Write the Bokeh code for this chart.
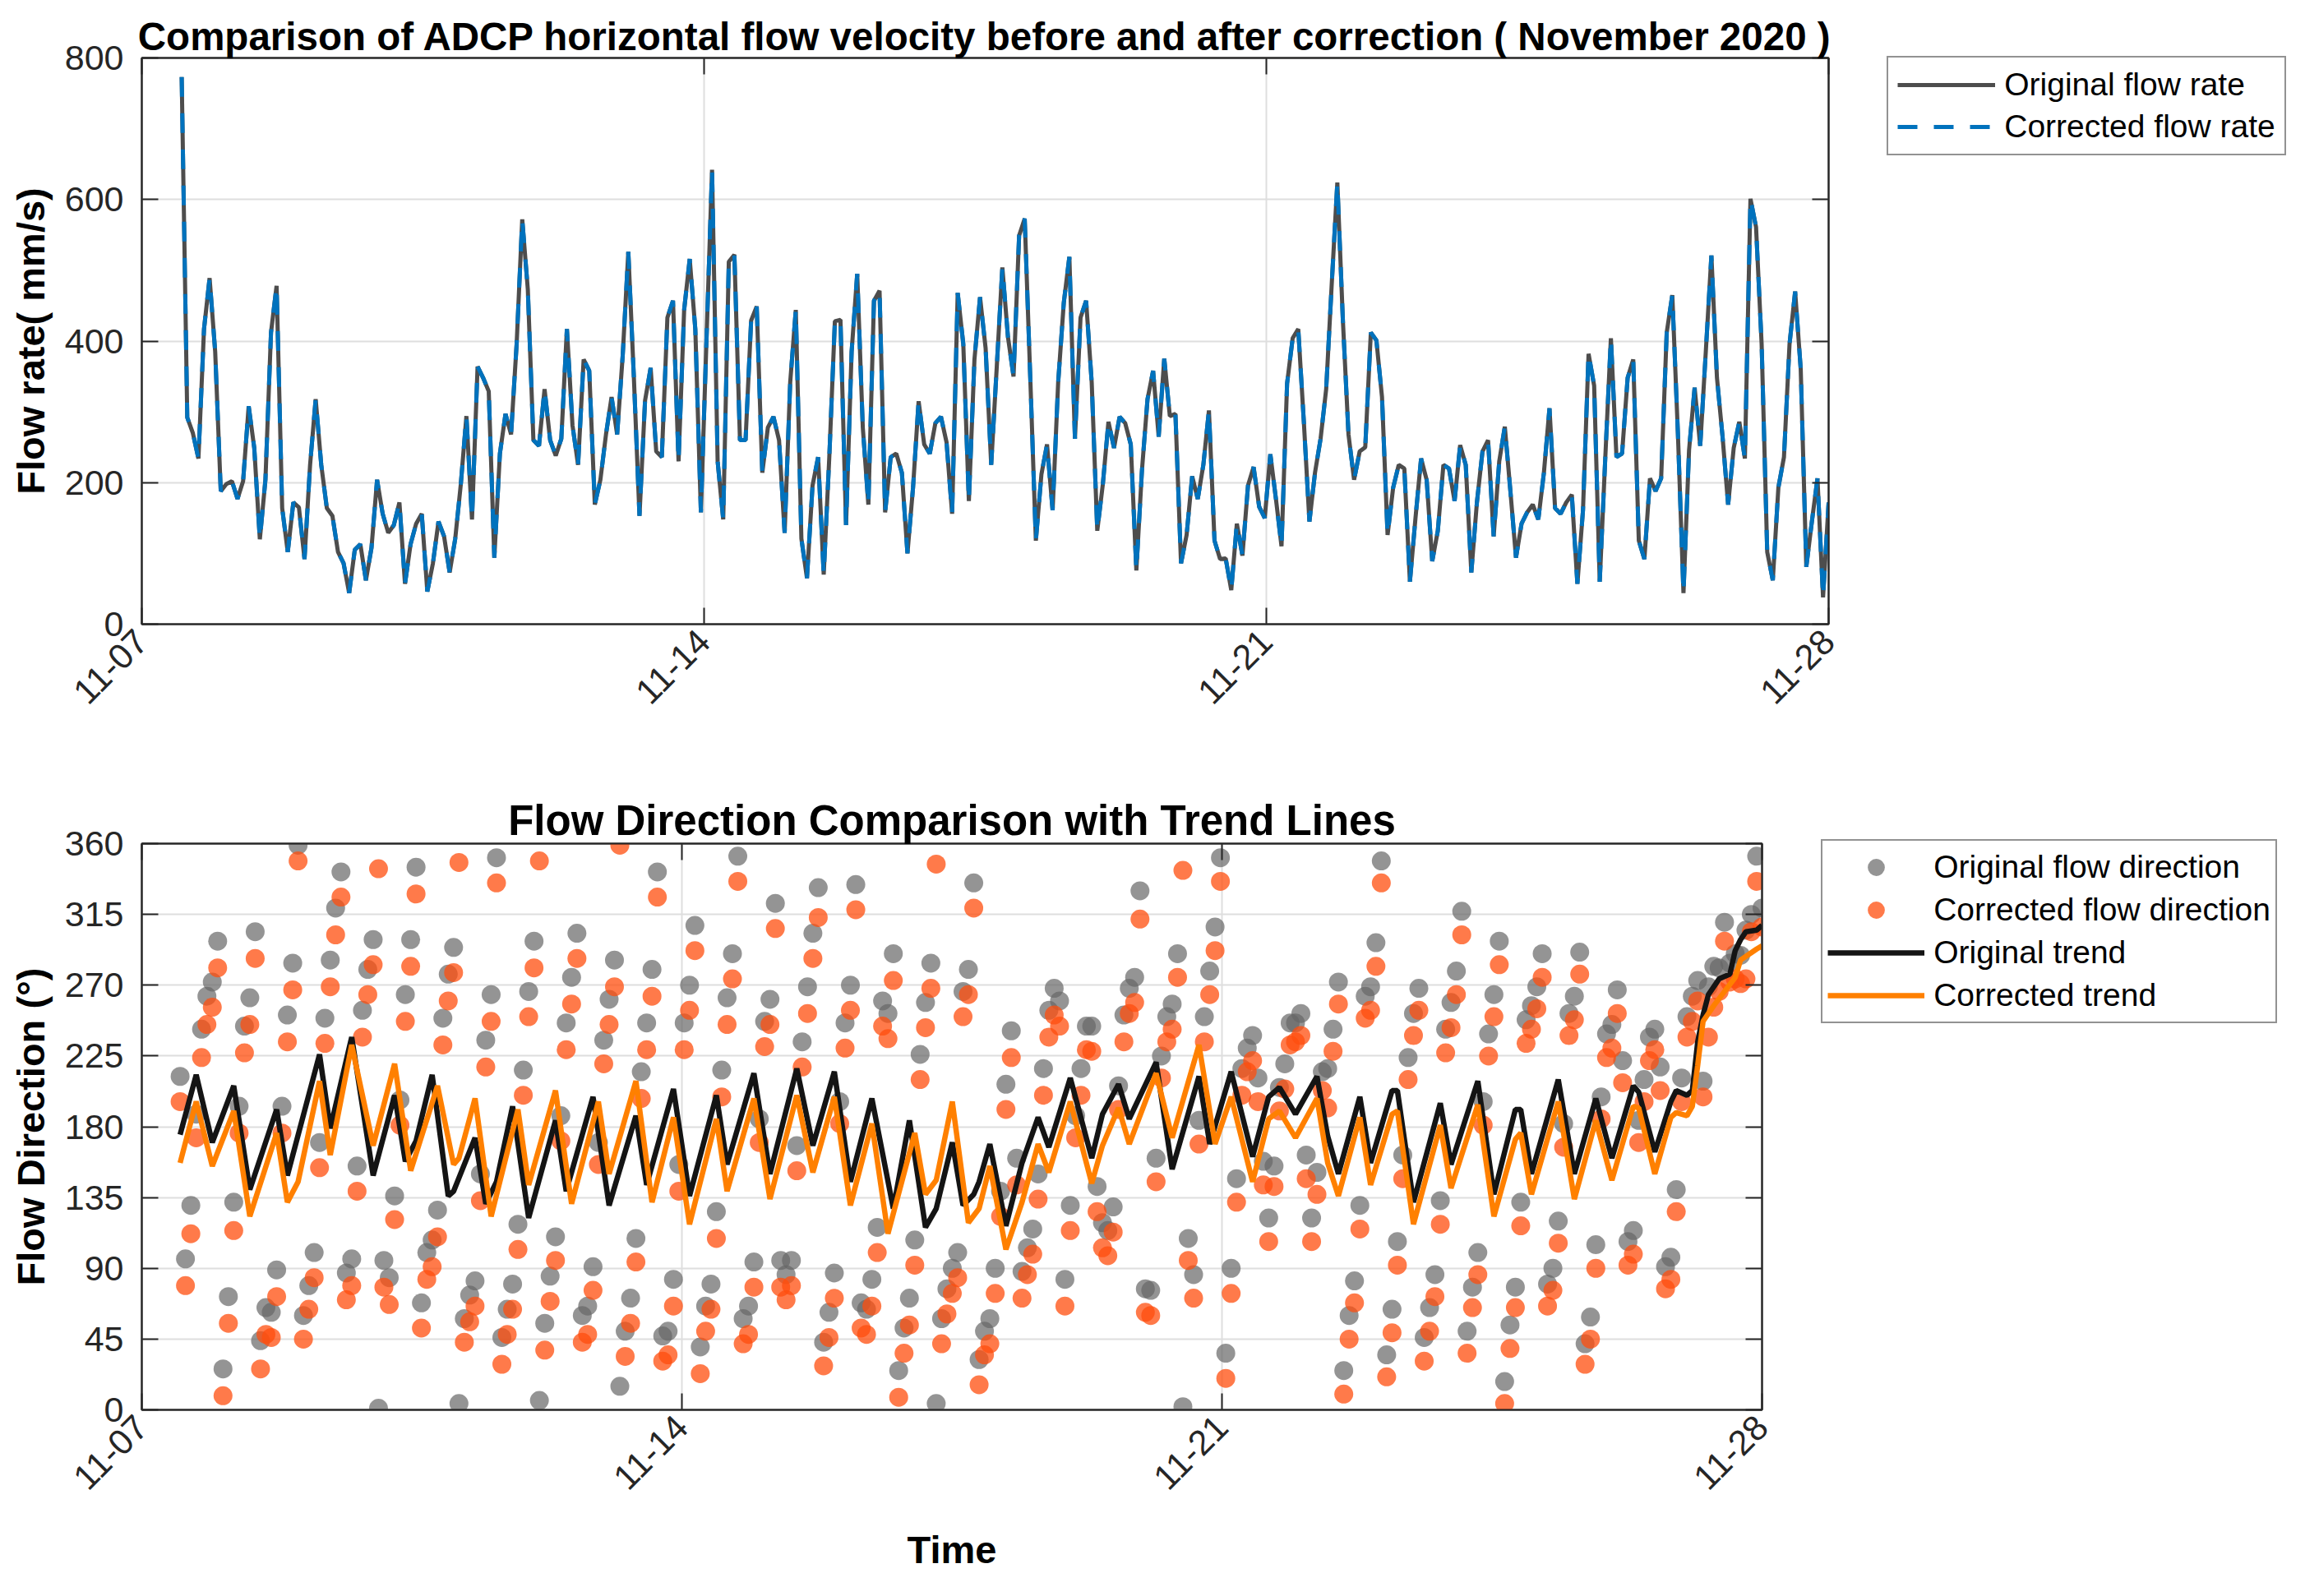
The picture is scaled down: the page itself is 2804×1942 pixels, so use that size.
import pandas as pd
from math import pi
from bokeh.plotting import figure
from bokeh.models import (FixedTicker, DatetimeTickFormatter, LinearAxis, DatetimeAxis,
                          Legend, LegendItem, Range1d)
from bokeh.embed import file_html
from bokeh.resources import INLINE

FONT = "Liberation Sans"

# sample times (both panels share them)
times = pd.date_range("2020-11-07 11:55", "2020-11-28 00:00", periods=296)

# horizontal flow velocity, mm/s
original_rate = [
    773, 292, 270, 234, 417, 489, 385, 188, 198, 202,
    177, 202, 308, 249, 120, 204, 412, 478, 164, 102,
    172, 165, 92, 225, 318, 225, 164, 153, 102, 86,
    44, 105, 113, 62, 108, 204, 156, 129, 140, 172,
    57, 113, 142, 156, 46, 86, 145, 124, 73, 121,
    198, 294, 148, 364, 348, 329, 94, 241, 297, 268,
    396, 572, 473, 260, 252, 332, 260, 238, 262, 417,
    281, 225, 374, 358, 169, 204, 268, 321, 268, 380,
    526, 348, 153, 316, 362, 244, 236, 433, 457, 230,
    444, 516, 417, 158, 401, 642, 230, 148, 512,
    522, 260, 260, 429, 449, 214, 278, 293, 260, 129,
    342, 444, 121, 65, 196, 236, 70, 236, 428, 430,
    140, 385, 495, 278, 169, 457, 471, 158, 236, 241,
    214, 100, 193, 315, 254, 241, 284, 293, 257, 156,
    468, 396, 174, 374, 462, 390, 225, 364, 504, 406,
    350, 549, 573, 348, 118, 212, 254, 161, 342, 454,
    519, 262, 433, 457, 342, 132, 198, 286, 249, 293,
    284, 254, 76, 217, 318, 358, 265, 375, 294, 297,
    86, 126, 209, 177, 225, 302, 118, 92, 93, 48,
    142, 97, 196, 222, 166, 150, 240, 177, 110, 340,
    404, 417,
    286, 145, 214, 262, 332, 481, 624, 428, 268, 204,
    244, 250, 412, 401, 321, 126, 193, 225, 220, 60,
    150, 234, 204, 89, 132, 225, 220, 174, 253, 225,
    73, 172, 244, 260, 124, 230, 279, 188, 94, 142,
    158, 169, 148, 214, 305, 164, 156, 172, 183, 57,
    161, 382, 337, 60, 236, 404, 236, 241, 348, 374,
    118, 92, 206, 188, 206, 412, 465, 270, 44, 246,
    334, 252, 385, 521, 348, 265, 169, 249, 286, 234,
    601, 561, 396, 102, 62, 193, 236, 396, 470, 361,
    81, 145, 206, 38, 172,
]
corrected_rate = list(original_rate)

# flow direction, degrees
original_dir = [
    212, 96, 130, 188, 242, 263, 272, 298, 26, 72,
    132, 193, 244, 262, 304, 44, 65, 62, 89, 193,
    251, 284, 359, 60, 79, 100, 170, 249, 286, 319,
    342, 87, 96, 155, 254, 280, 299, 1, 95, 84,
    136, 197, 264, 299, 345, 68, 100, 108, 127, 249,
    277, 294, 4, 58, 73, 82, 150, 235, 264, 351,
    46, 64, 80, 118, 216, 266, 298, 6, 55, 85,
    110, 187, 246, 275, 303, 60, 66, 91, 170, 235,
    261, 286, 15, 50, 71, 109, 215, 246, 280, 342,
    47, 50, 83, 156, 246, 270, 308, 40, 66, 80,
    126, 216, 262, 290, 352, 58, 66, 94,
    185, 247, 261, 322, 95, 86, 95, 168, 234, 269,
    303, 332, 43, 62, 87, 196, 246, 270, 334, 68,
    64, 83, 116, 260, 252, 290, 25, 52, 71, 108,
    226, 259, 284, 4, 58, 77, 90, 100, 266, 280,
    335, 32, 50, 58, 90, 139, 207, 241, 160, 88,
    103, 115, 150, 217, 254, 268, 260, 83, 130, 187,
    217, 244, 244, 142, 119, 114, 129, 206, 251, 268,
    275, 330, 77, 76, 160, 225, 250, 258, 290, 2,
    109, 86, 184, 250, 279, 307, 351, 36, 90, 147,
    217, 230, 238, 211, 158, 122, 155, 205, 220, 246,
    246, 252, 162, 122, 151, 215, 217, 242, 272, 25,
    60, 82, 130, 263, 269, 297, 349, 35, 64, 107,
    162, 224, 252, 268, 46, 65, 86, 133, 242, 259,
    279, 317, 50, 78, 100, 196, 239, 264, 298, 18,
    54, 78, 132, 248, 257, 269, 290, 80, 90, 120,
    182, 252, 263, 291, 42, 59, 105, 199, 239, 245,
    267, 222, 107, 114, 184, 210, 237, 242, 218, 91,
    97, 140, 211, 250, 263, 273, 209, 269, 282, 281,
    310, 284, 290, 289, 305, 315, 352, 319,
]
corrected_dir = [
    196, 79, 112, 173, 224, 245, 256, 281, 9, 55,
    114, 176, 227, 245, 287, 26, 48, 46, 72, 176,
    234, 267, 349, 45, 64, 84, 154, 233, 269, 302,
    326, 70, 79, 139, 237, 264, 283, 344, 78, 67,
    121, 181, 247, 282, 328, 52, 83, 91, 110, 232,
    260, 278, 348, 43, 56, 66, 133, 218, 247, 335,
    29, 48, 64, 102, 200, 250, 281, 349, 38, 69,
    95, 171, 229, 258, 287, 43, 48, 76, 156, 220,
    245, 269, 359, 34, 55, 94, 198, 229, 263, 326,
    31, 35, 66, 139, 229, 254, 292, 23, 50, 64,
    109, 199, 245, 274, 336, 42, 48, 78,
    170, 231, 245, 306, 78, 70, 79, 152, 218, 252,
    287, 313, 28, 46, 71, 182, 230, 254, 318, 52,
    48, 66, 100, 244, 236, 273, 8, 36, 54, 92,
    210, 243, 268, 347, 42, 61, 74, 84, 250, 264,
    319, 16, 35, 42, 74, 123, 191, 224, 143, 71,
    86, 99, 134, 200, 237, 251, 244, 66, 114, 173,
    200, 229, 228, 126, 103, 98, 113, 191, 234, 252,
    259, 312, 62, 60, 145, 211, 234, 242, 275, 343,
    95, 71, 169, 234, 264, 292, 336, 20, 74, 132,
    200, 215, 222, 196, 143, 107, 142, 190, 204, 232,
    234, 238, 147, 107, 137, 203, 192, 228, 258, 10,
    45, 68, 115, 249, 254, 282, 335, 21, 49, 92,
    147, 210, 238, 254, 31, 50, 72, 118, 227, 243,
    264, 302, 36, 65, 86, 181, 225, 250, 283, 4,
    39, 65, 117, 233, 242, 255, 275, 66, 76, 106,
    167, 238, 248, 277, 29, 45, 90, 185, 224, 230,
    252, 208, 92, 99, 170, 196, 222, 229, 203, 77,
    83, 126, 196, 237, 247, 260, 199, 237, 256, 266,
    298, 272, 274, 271, 274, 304, 336, 307,
]

# trend lines: sample index of each corner, and value there
orig_trend_idx = [
    0, 3, 6, 10, 13, 18, 20, 26, 28, 32, 36, 40, 42, 44, 47, 50, 51, 55, 57, 59,
    62, 65, 70, 72, 77, 80, 85, 87, 92, 95, 100, 102, 107, 110, 115, 118, 122, 125,
    129, 133, 136, 139, 141, 144, 146, 148, 149, 151, 154, 157, 160, 162, 166, 170,
    172, 175, 177, 182, 185, 190, 192, 196, 200, 203, 205, 208, 212, 214, 216, 220,
    222, 226, 227, 230, 235, 237, 242, 245, 249, 250, 252, 257, 260, 264, 267, 271,
    272, 275, 278, 279, 281, 282, 283, 284, 285, 287, 289, 290, 291, 292, 294, 295,
]
orig_trend = [
    175, 213, 170, 206, 140, 191, 149, 226, 179, 237, 149, 200, 158, 171, 213, 136, 139, 173, 131, 145,
    193, 122, 184, 139, 199, 130, 187, 143, 204, 136, 200, 156, 214, 150, 217, 168, 215, 145,
    198, 128, 184, 116, 128, 170, 130, 137, 145, 169, 117, 157, 186, 167, 211, 160,
    188, 207, 185, 221, 153, 212, 169, 215, 161, 199, 205, 188, 212, 174, 150, 199,
    157, 203, 203, 132, 195, 156, 209, 137, 191, 191, 150, 210, 150, 198, 160, 206,
    202, 164, 196, 203, 200, 203, 234, 251, 264, 274, 277, 292, 299, 304, 305, 308,
]
corr_trend_idx = [
    0, 3, 6, 10, 13, 18, 20, 22, 26, 28, 32, 36, 40, 43, 48, 51, 52, 55, 58, 63,
    65, 70, 73, 78, 80, 85, 88, 92, 95, 100, 102, 107, 110, 115, 118, 122, 125, 129,
    132, 137, 139, 141, 144, 147, 149, 151, 154, 157, 160, 162, 166, 170, 172, 175,
    177, 182, 185, 190, 193, 196, 200, 203, 205, 208, 212, 214, 216, 220, 222, 226,
    227, 230, 235, 237, 242, 245, 249, 250, 252, 257, 260, 264, 267, 271, 272, 275,
    278, 279, 281, 282, 283, 284, 286, 288, 290, 291, 294, 295,
]
corr_trend = [
    157, 196, 155, 190, 123, 176, 132, 145, 209, 162, 232, 168, 220, 152, 206, 156, 160, 198, 123, 191,
    143, 203, 131, 196, 150, 209, 132, 186, 118, 185, 139, 198, 134, 200, 151, 199, 130, 182,
    112, 176, 137, 146, 196, 119, 128, 155, 102, 132, 169, 151, 196, 144, 168, 192,
    169, 214, 173, 232, 169, 199, 145, 185, 190, 173, 198, 157, 136, 186, 143, 188,
    190, 118, 181, 141, 194, 123, 172, 176, 137, 196, 134, 184, 146, 193, 192, 150,
    186, 189, 187, 193, 219, 247, 257, 266, 275, 286, 293, 295,
]

x_ticks = [pd.Timestamp(d).value // 10**6 for d in
           ["2020-11-07", "2020-11-14", "2020-11-21", "2020-11-28"]]
rate_ticks = [0, 200, 400, 600, 800]
dir_ticks = [0, 45, 90, 135, 180, 225, 270, 315, 360]

AX = "#262626"
GRID = "#dedede"


def dt_formatter():
    f = "%m-%d"
    return DatetimeTickFormatter(milliseconds=f, seconds=f, minsec=f, minutes=f, hourmin=f,
                                 hours=f, days=f, months=f, years=f)


def tick_style(ax):
    ax.axis_line_color = AX
    ax.axis_line_width = 2
    ax.major_tick_in = 20
    ax.major_tick_out = 0
    ax.major_tick_line_color = AX
    ax.major_tick_line_width = 2
    ax.minor_tick_line_color = None


def style(p, yticks, ylabel, title, title_size):
    p.title.text = title
    p.title.align = "center"
    p.title.text_font = FONT
    p.title.text_font_size = title_size
    p.title.text_font_style = "bold"
    p.title.text_color = "black"
    p.title.standoff = 0
    p.outline_line_color = AX
    p.outline_line_width = 2
    xa, ya = p.below[0], p.left[0]
    xa.ticker = FixedTicker(ticks=x_ticks)
    xa.formatter = dt_formatter()
    xa.major_label_orientation = pi / 4
    ya.ticker = FixedTicker(ticks=yticks)
    ya.axis_label = ylabel
    for ax in (xa, ya):
        ax.major_label_text_font = FONT
        ax.major_label_text_font_size = "43px"
        ax.major_label_text_color = AX
        ax.axis_label_text_font = FONT
        ax.axis_label_text_font_size = "47px"
        ax.axis_label_text_font_style = "bold"
        ax.axis_label_text_color = "black"
        tick_style(ax)
    ya.major_label_standoff = 22
    ya.axis_label_standoff = 12
    xa.major_label_standoff = 14
    p.grid.grid_line_color = GRID
    p.grid.grid_line_width = 2
    # tick marks on the right and top edges, without labels
    r_ax = LinearAxis(ticker=FixedTicker(ticks=yticks),
                      major_label_overrides={t: "" for t in yticks})
    t_ax = DatetimeAxis(ticker=FixedTicker(ticks=x_ticks),
                        major_label_overrides={t: "" for t in x_ticks})
    for ax in (r_ax, t_ax):
        ax.major_label_text_font_size = "1px"
        ax.major_label_standoff = 0
        tick_style(ax)
    p.add_layout(r_ax, "right")
    p.add_layout(t_ax, "above")


def legend_box(items, loc, glyph_w, glyph_h, spacing, padding):
    lg = Legend(items=items, location=loc)
    lg.label_text_font = FONT
    lg.label_text_font_size = "39px"
    lg.label_text_color = "black"
    lg.border_line_color = AX
    lg.border_line_width = 2
    lg.background_fill_alpha = 1
    lg.glyph_width = glyph_w
    lg.glyph_height = glyph_h
    lg.label_height = glyph_h
    lg.label_standoff = 11
    lg.spacing = spacing
    lg.padding = padding
    lg.margin = 0
    return lg


x_range_all = (pd.Timestamp("2020-11-07"), pd.Timestamp("2020-11-28"))

p1 = figure(frame_width=2052, frame_height=689, x_axis_type="datetime",
            x_range=Range1d(*x_range_all), y_range=Range1d(0, 800),
            output_backend="svg", toolbar_location=None,
            min_border_left=172, min_border_right=572,
            min_border_top=70, min_border_bottom=171)
style(p1, rate_ticks, "Flow rate( mm/s)",
      "Comparison of ADCP horizontal flow velocity before and after correction ( November 2020 )",
      "47.5px")
r_orig = p1.line(times, original_rate, line_color="#4d4d4d", line_width=5)
r_corr = p1.line(times, corrected_rate, line_color="#0072bd", line_width=5, line_dash="24 20")
p1.add_layout(legend_box([LegendItem(label="Original flow rate", renderers=[r_orig]),
                          LegendItem(label="Corrected flow rate", renderers=[r_corr])],
                         (-119, 570), 119, 44, 7, 11), "right")

p2 = figure(frame_width=1971, frame_height=689, x_axis_type="datetime",
            x_range=Range1d(*x_range_all), y_range=Range1d(0, 360),
            output_backend="svg", toolbar_location=None,
            min_border_left=172, min_border_right=653,
            min_border_top=96, min_border_bottom=219)
style(p2, dir_ticks, "Flow Direction (°)", "Flow Direction Comparison with Trend Lines", "51px")
p2.below[0].axis_label = "Time"
p2.below[0].axis_label_standoff = 30
r_go = p2.scatter(times, original_dir, size=23, fill_color="#666666", fill_alpha=0.7, line_color=None)
r_co = p2.scatter(times, corrected_dir, size=23, fill_color="#ff4d0d", fill_alpha=0.75, line_color=None)
r_to = p2.line(times[orig_trend_idx], orig_trend, line_color="#141414", line_width=6.5)
r_tc = p2.line(times[corr_trend_idx], corr_trend, line_color="#ff8000", line_width=6.5)
p2.add_layout(legend_box([LegendItem(label="Original flow direction", renderers=[r_go]),
                          LegendItem(label="Corrected flow direction", renderers=[r_co]),
                          LegendItem(label="Original trend", renderers=[r_to]),
                          LegendItem(label="Corrected trend", renderers=[r_tc])],
                         (-119, 470), 118, 52, 0, 6), "right")

open("out.html", "w").write(file_html([p1, p2], INLINE))
